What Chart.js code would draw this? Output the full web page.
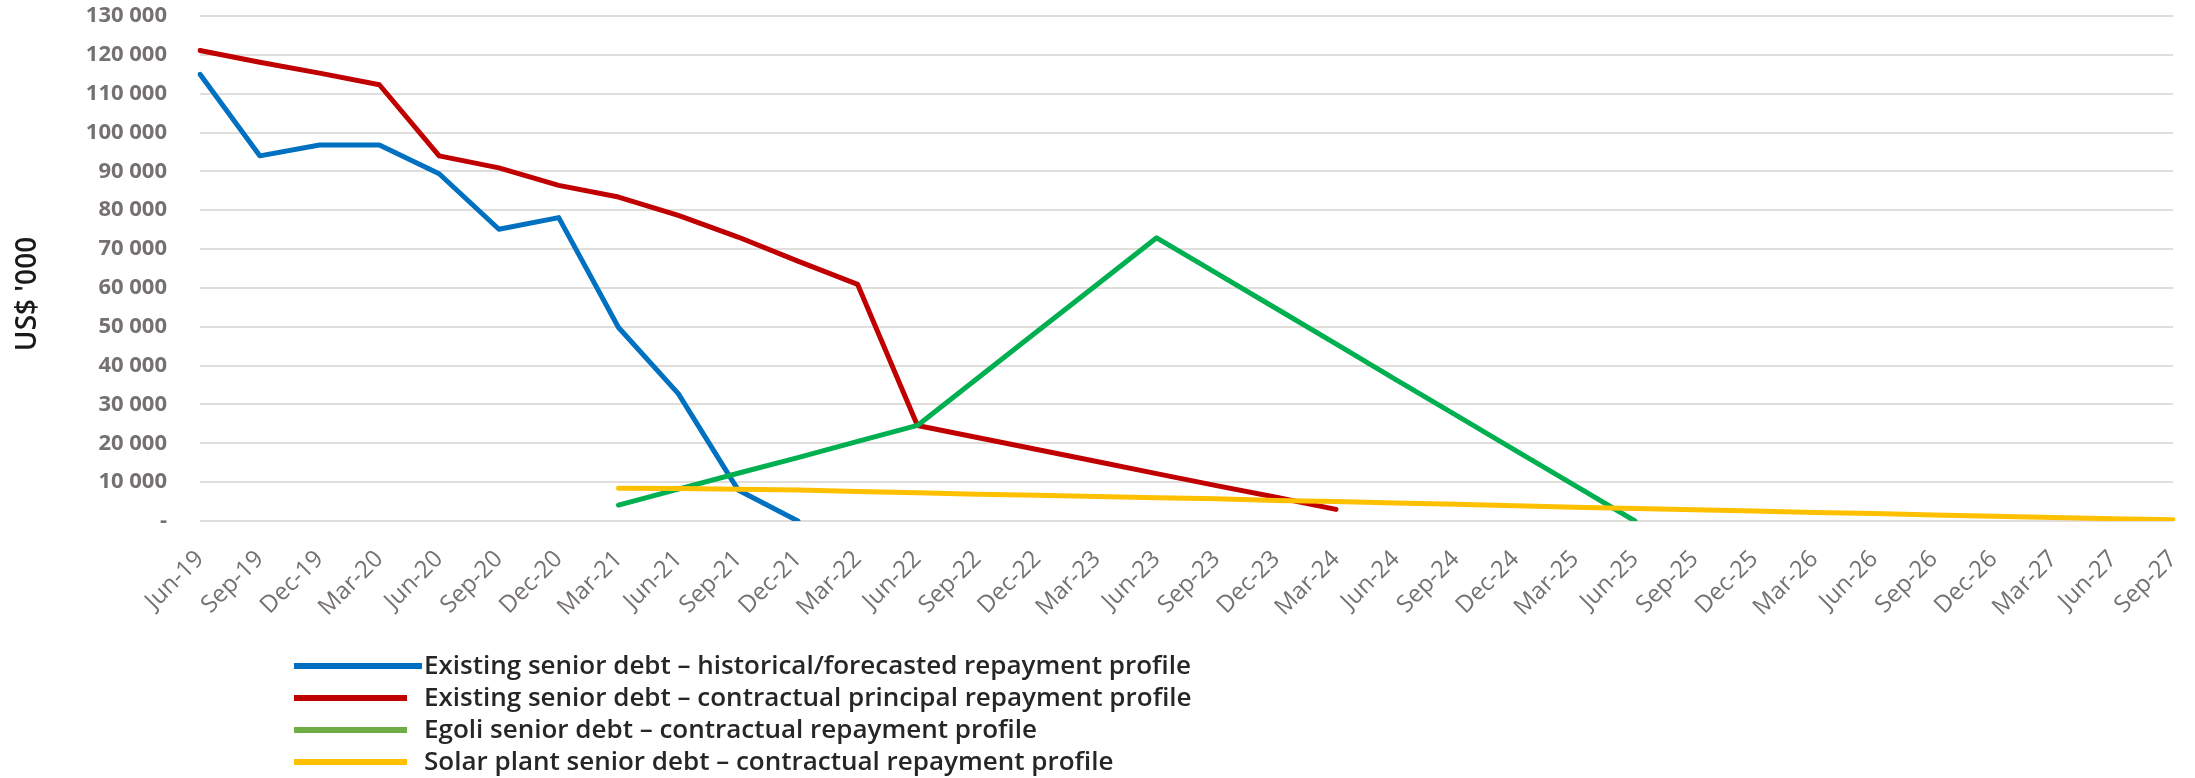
<!DOCTYPE html>
<html>
<head>
<meta charset="utf-8">
<title>Senior debt repayment profiles</title>
<script src="https://cdn.jsdelivr.net/npm/chart.js@4/dist/chart.umd.min.js"></script>
<style>
  html, body { margin: 0; padding: 0; background: #ffffff; }
  #wrap { width: 2195px; height: 778px; position: relative; }
</style>
</head>
<body>
<div id="wrap"><canvas id="debt" width="2195" height="778"></canvas></div>
<script>
// Quarter-end labels
const quarters = [
  'Jun-19','Sep-19','Dec-19','Mar-20','Jun-20','Sep-20','Dec-20','Mar-21',
  'Jun-21','Sep-21','Dec-21','Mar-22','Jun-22','Sep-22','Dec-22','Mar-23',
  'Jun-23','Sep-23','Dec-23','Mar-24','Jun-24','Sep-24','Dec-24','Mar-25',
  'Jun-25','Sep-25','Dec-25','Mar-26','Jun-26','Sep-26','Dec-26','Mar-27',
  'Jun-27','Sep-27'
];

// Outstanding balances, US$ '000
const existingForecast = [
  115000, 94000, 96800, 96800, 89400, 75100, 78100, 49800,
  32800, 8000, 0, null, null, null, null, null,
  null, null, null, null, null, null, null, null,
  null, null, null, null, null, null, null, null,
  null, null
];
const existingContractual = [
  121100, 118100, 115300, 112300, 94000, 90900, 86400, 83400,
  78700, 73100, 66900, 60900, 24600, 21500, 18400, 15300,
  12200, 9100, 6100, 3000, null, null, null, null,
  null, null, null, null, null, null, null, null,
  null, null
];
const egoliContractual = [
  null, null, null, null, null, null, null, 4100,
  8200, 12300, 16300, 20500, 24600, 36700, 48800, 60800,
  72900, 63800, 54700, 45600, 36400, 27300, 18200, 9100,
  0, null, null, null, null, null, null, null,
  null, null
];
const solarContractual = [
  null, null, null, null, null, null, null, 8400,
  8350, 8200, 7950, 7600, 7250, 6900, 6600, 6300,
  6000, 5700, 5300, 5000, 4650, 4300, 3950, 3550,
  3200, 2900, 2550, 2200, 1900, 1550, 1200, 900,
  600, 300
];

const seriesNames = [
  'Existing senior debt \u2013 historical/forecasted repayment profile',
  'Existing senior debt \u2013 contractual principal repayment profile',
  'Egoli senior debt \u2013 contractual repayment profile',
  'Solar plant senior debt \u2013 contractual repayment profile'
];
const lineColours   = ['#0070C0', '#C00000', '#00B050', '#FFC000'];
const legendColours = ['#0070C0', '#C00000', '#70AD47', '#FFC000'];
const yTitle = "US$ '000";

const AXIS_GREY = '#767171';
const GRID_GREY = '#E0DDDA';

function fmtThousands(v) {
  if (v === 0) return '-';
  return String(v).replace(/\B(?=(\d{3})+(?!\d))/g, ' ');
}

// Stacked legend under the axis plus the rotated value-axis title
const sideText = {
  id: 'sideText',
  afterDraw(chart) {
    const ctx = chart.ctx;
    ctx.save();
    ctx.translate(28, 294);
    ctx.rotate(-Math.PI / 2);
    ctx.font = '600 28px "Open Sans"';
    ctx.fillStyle = '#1a1a1a';
    ctx.textAlign = 'center';
    ctx.textBaseline = 'middle';
    ctx.fillText(yTitle, 0, 0);
    ctx.restore();

    ctx.save();
    ctx.font = '600 26px "Open Sans"';
    ctx.textAlign = 'left';
    ctx.textBaseline = 'middle';
    chart.data.datasets.forEach((ds, i) => {
      const y = 666 + i * 32;
      ctx.strokeStyle = legendColours[i];
      ctx.lineWidth = 6;
      ctx.lineCap = 'butt';
      ctx.beginPath();
      ctx.moveTo(294, y);
      ctx.lineTo(i === 0 ? 422 : 407, y);
      ctx.stroke();
      ctx.fillStyle = '#262626';
      ctx.fillText(ds.label, 424, y + 1);
    });
    ctx.restore();
  }
};

const datasets = [existingForecast, existingContractual, egoliContractual, solarContractual]
  .map((values, i) => ({
    label: seriesNames[i],
    data: values,
    borderColor: lineColours[i],
    backgroundColor: lineColours[i],
    borderWidth: 5,
    pointRadius: 0,
    pointHoverRadius: 0,
    tension: 0,
    fill: false,
    spanGaps: false,
    borderCapStyle: 'round',
    borderJoinStyle: 'round',
    order: 3 - i
  }));

new Chart(document.getElementById('debt'), {
  type: 'line',
  data: { labels: quarters, datasets },
  plugins: [sideText],
  options: {
    responsive: false,
    devicePixelRatio: 1,
    animation: false,
    layout: { padding: { left: 0, right: 22, top: 16, bottom: 0 } },
    plugins: {
      legend: { display: false },
      tooltip: { enabled: false }
    },
    scales: {
      x: {
        offset: false,
        grid: { display: false, drawTicks: false },
        border: { display: false },
        ticks: {
          autoSkip: false,
          maxRotation: 45,
          minRotation: 45,
          padding: 24,
          color: AXIS_GREY,
          font: { family: 'Open Sans', size: 24 }
        },
        afterFit(scale) {
          scale.height = 257;
          scale.paddingLeft = 0;
          scale.paddingRight = 0;
        }
      },
      y: {
        min: 0,
        max: 130000,
        grid: { color: GRID_GREY, lineWidth: 2, drawTicks: false },
        border: { display: false },
        ticks: {
          stepSize: 10000,
          padding: 33,
          color: AXIS_GREY,
          font: { family: 'Open Sans', size: 22, weight: '700' },
          callback: (v) => fmtThousands(v)
        },
        afterFit(scale) {
          scale.width = 200;
          scale.paddingTop = 0;
          scale.paddingBottom = 0;
        }
      }
    }
  }
});
</script>
</body>
</html>
